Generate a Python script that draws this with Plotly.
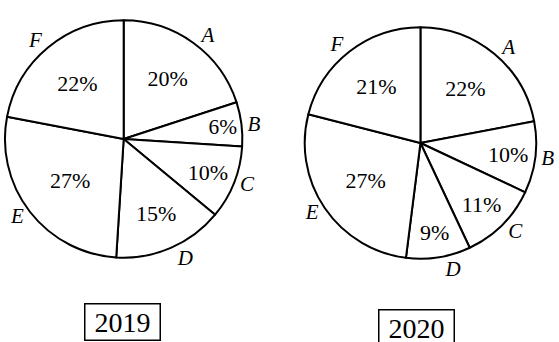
import plotly.graph_objects as go

# data
categories = ['A', 'B', 'C', 'D', 'E', 'F']
share_2019 = [20, 6, 10, 15, 27, 22]
share_2020 = [22, 10, 11, 9, 27, 21]
years = ['2019', '2020']

SERIF = 'Liberation Serif, Times New Roman, serif'

def pie_pair(values, domain):
    # slices with the percentage written inside
    body = go.Pie(
        labels=categories, values=values, sort=False,
        direction='clockwise', rotation=0,
        domain=domain,
        marker=dict(colors=['white'] * len(values),
                    line=dict(color='black', width=2)),
        texttemplate='%{value}%', textposition='inside',
        insidetextorientation='horizontal',
        textfont=dict(family=SERIF, size=22, color='black'),
        hoverinfo='skip', showlegend=False,
    )
    # transparent copy that only carries the letter outside each slice
    names = go.Pie(
        labels=categories, values=values, sort=False,
        direction='clockwise', rotation=0,
        domain=domain,
        marker=dict(colors=['rgba(0,0,0,0)'] * len(values),
                    line=dict(width=0)),
        textinfo='label', textposition='outside',
        textfont=dict(family=SERIF, size=21, color='black', style='italic'),
        hoverinfo='skip', showlegend=False,
    )
    return [body, names]

W, H = 559, 342
left_dom = dict(x=[4 / W, 244 / W], y=[1 - 259 / H, 1 - 19 / H])
right_dom = dict(x=[307 / W, 541 / W], y=[1 - 260 / H, 1 - 26 / H])

fig = go.Figure(pie_pair(share_2019, left_dom) + pie_pair(share_2020, right_dom))

for yr, xc, yc in zip(years, [123 / W, 420 / W], [20 / H, 14 / H]):
    fig.add_annotation(
        x=xc, y=yc, xref='paper', yref='paper', showarrow=False,
        xanchor='center', yanchor='middle',
        width=72, height=33,
        text=yr, font=dict(family=SERIF, size=28, color='black'),
        bordercolor='black', borderwidth=1.5, borderpad=1, bgcolor='white',
    )

fig.update_layout(
    width=W, height=H,
    margin=dict(l=0, r=0, t=0, b=0),
    paper_bgcolor='white', plot_bgcolor='white',
    showlegend=False,
)

# the page body has a default 8px margin, drop it so the figure sits at 0,0
fig.write_html("out.html", config={'displayModeBar': False},
               post_script="document.body.style.margin = '0';")
